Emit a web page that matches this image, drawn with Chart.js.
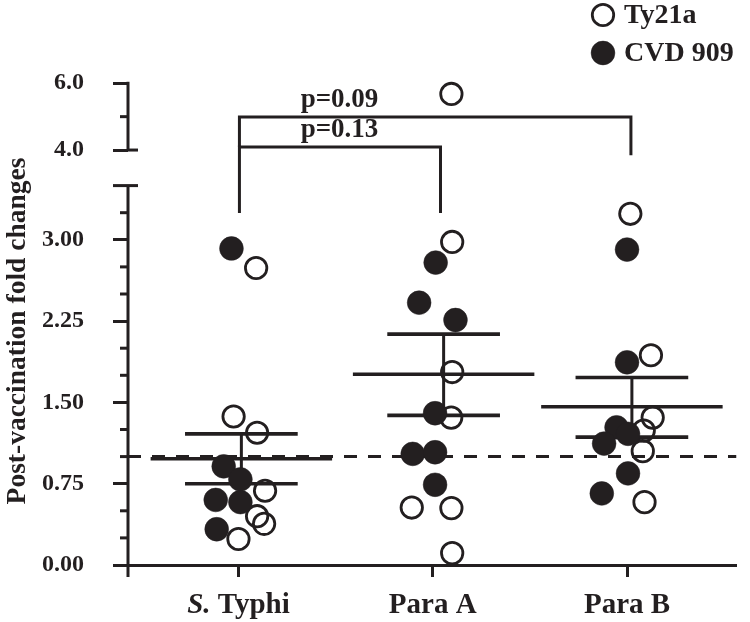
<!DOCTYPE html>
<html><head><meta charset="utf-8">
<script src="https://cdn.jsdelivr.net/npm/chart.js@4.4.0/dist/chart.umd.min.js"></script>
<style>html,body{margin:0;padding:0;background:#fff;}</style>
</head><body>
<canvas id="c" width="750" height="622"></canvas>
<script>
// ---------------- data ----------------
const categories = ['S. Typhi', 'Para A', 'Para B'];
const seriesNames = ['Ty21a', 'CVD 909'];

// Ty21a (open circles), fold change per subject, per category
const ty21aValues = [
  [2.74, 1.37, 1.22, 0.685, 0.45, 0.38, 0.24],
  [5.68, 2.98, 1.78, 1.36, 0.53, 0.525, 0.11],
  [3.24, 1.935, 1.36, 1.24, 1.05, 0.58]
];
// CVD 909 (filled circles)
const cvd909Values = [
  [2.92, 0.91, 0.79, 0.60, 0.58, 0.33],
  [2.79, 2.42, 2.26, 1.40, 1.025, 1.04, 0.74],
  [2.91, 1.87, 1.27, 1.21, 1.12, 0.845, 0.66]
];
// horizontal scatter of each dot inside its category (category units)
const ty21aJitter = [
  [0.091, -0.025, 0.096, 0.137, 0.096, 0.132, 0.000],
  [0.096, 0.100, 0.100, 0.095, -0.108, 0.096, 0.100],
  [0.017, 0.123, 0.132, 0.086, 0.081, 0.090]
];
const cvd909Jitter = [
  [-0.036, -0.076, 0.010, -0.117, 0.010, -0.112],
  [0.015, -0.070, 0.117, 0.012, -0.103, 0.012, 0.012],
  [0.000, 0.000, -0.054, 0.005, -0.118, 0.005, -0.130]
];
const meanValues = [0.98, 1.76, 1.46];
const semLower = [0.75, 1.38, 1.18];
const semUpper = [1.21, 2.13, 1.73];
const referenceLevel = 1.0;

const lowerTickValues = [0, 0.75, 1.5, 2.25, 3.0];
const lowerTickLabels = ['0.00', '0.75', '1.50', '2.25', '3.00'];
const upperTickValues = [4.0, 6.0];
const upperTickLabels = ['4.0', '6.0'];

const comparisons = [
  { from: 0, to: 1, label: 'p=0.13' },
  { from: 0, to: 2, label: 'p=0.09' }
];

// ---------------- layout / style ----------------
const INK = '#231f20';
const FONT = "'Liberation Serif', 'Times New Roman', serif";
const L = {
  xMin: 0.4315, xMax: 3.5634,
  lowMax: 3.5, highMin: 4, highStart: 3.828, highScale: 0.308, yMax: 5.0,
  minorStep: 0.25,
  meanHalf: 0.467, capHalf: 0.29, groupShift: [0.015, 0.056, 0.025],
  bracketX: [1.005, 2.04, 3.02], bracketLabelX: 1.52,
  brackets: [ { top: 3.856, left: 3.247, right: 3.247 }, { top: 4.133, left: 3.856, right: 3.78 } ]
};
// broken axis: map a real value to the continuous display coordinate
function t(v) { return v <= L.lowMax ? v : L.highStart + (v - L.highMin) * L.highScale; }

// y tick list
const yTickList = [];
for (let v = 0; v <= L.lowMax + 1e-9; v += L.minorStep) {
  const k = lowerTickValues.findIndex(m => Math.abs(m - v) < 1e-9);
  yTickList.push({ v: +v.toFixed(2), label: k >= 0 ? lowerTickLabels[k] : '', major: k >= 0 });
}
[4.0, 5.0, 6.0].forEach(v => {
  const k = upperTickValues.indexOf(v);
  yTickList.push({ v, label: k >= 0 ? upperTickLabels[k] : '', major: k >= 0 });
});

// ---------------- datasets ----------------
const datasets = [];
datasets.push({
  label: seriesNames[1], order: 0,
  data: cvd909Values.flatMap((arr, i) => arr.map((v, j) => ({ x: i + 1 + cvd909Jitter[i][j], y: t(v) }))),
  pointRadius: 11.9, pointBackgroundColor: INK, pointBorderColor: INK, pointBorderWidth: 0.5, showLine: false
});
datasets.push({
  label: seriesNames[0], order: 1,
  data: ty21aValues.flatMap((arr, i) => arr.map((v, j) => ({ x: i + 1 + ty21aJitter[i][j], y: t(v) }))),
  pointRadius: 10.7, pointBackgroundColor: 'rgba(255,255,255,0)', pointBorderColor: INK, pointBorderWidth: 2.8, showLine: false
});
function lineDs(pts, w, extra) {
  datasets.push(Object.assign({
    label: '', order: 5, data: pts, showLine: true, pointRadius: 0, borderColor: INK,
    borderWidth: w, fill: false, borderCapStyle: 'butt', borderJoinStyle: 'miter', tension: 0
  }, extra || {}));
}
categories.forEach((c, i) => {
  const cx = i + 1 + L.groupShift[i];
  lineDs([{ x: cx - L.meanHalf, y: t(meanValues[i]) }, { x: cx + L.meanHalf, y: t(meanValues[i]) }], 3.6);
  lineDs([{ x: cx - L.capHalf, y: t(semUpper[i]) }, { x: cx + L.capHalf, y: t(semUpper[i]) }], 3.6);
  lineDs([{ x: cx - L.capHalf, y: t(semLower[i]) }, { x: cx + L.capHalf, y: t(semLower[i]) }], 3.6);
  lineDs([{ x: cx, y: t(semLower[i]) }, { x: cx, y: t(semUpper[i]) }], 3);
});
lineDs([{ x: L.xMin, y: t(referenceLevel) }, { x: L.xMax, y: t(referenceLevel) }], 3, { borderDash: [13, 11], order: 6 });
comparisons.forEach((cmp, k) => {
  const b = L.brackets[k];
  const x1 = L.bracketX[cmp.from], x2 = L.bracketX[cmp.to];
  lineDs([{ x: x1, y: b.left }, { x: x1, y: b.top }, { x: x2, y: b.top }, { x: x2, y: b.right }], 3);
});

// ---------------- plugin: broken axis, labels, legend ----------------
const decor = {
  id: 'decor',
  afterDraw(chart) {
    const { ctx, scales: { x, y } } = chart;
    const ax = chart.chartArea.left;
    ctx.save();
    ctx.strokeStyle = INK; ctx.fillStyle = INK; ctx.lineWidth = 3; ctx.lineCap = 'butt';
    const py = v => y.getPixelForValue(t(v));
    const seg = (x1, y1, x2, y2) => { ctx.beginPath(); ctx.moveTo(x1, y1); ctx.lineTo(x2, y2); ctx.stroke(); };
    // axis lines (two segments)
    seg(ax, py(0) + 12, ax, py(L.lowMax));
    seg(ax, py(L.highMin), ax, py(6.0) - 1.5);
    // minor ticks
    yTickList.forEach(tk => {
      if (!tk.major && tk.v !== L.lowMax) seg(ax - 8, py(tk.v), ax, py(tk.v));
    });
    // break marks
    seg(ax - 15, py(L.lowMax), ax + 10, py(L.lowMax));
    seg(ax, py(L.highMin), ax + 10, py(L.highMin));

    // x category labels
    ctx.textBaseline = 'alphabetic';
    const fs = 29;
    categories.forEach((c, i) => {
      const px = x.getPixelForValue(i + 1);
      const baseY = 613;
      if (c.startsWith('S. ')) {
        ctx.font = `italic bold ${fs}px ${FONT}`;
        const a = 'S.';
        const wa = ctx.measureText(a).width;
        ctx.font = `bold ${fs}px ${FONT}`;
        const b = c.slice(2);
        const wb = ctx.measureText(b).width;
        const start = px - (wa + wb) / 2;
        ctx.textAlign = 'left';
        ctx.font = `italic bold ${fs}px ${FONT}`;
        ctx.fillText(a, start, baseY);
        ctx.font = `bold ${fs}px ${FONT}`;
        ctx.fillText(b, start + wa, baseY);
      } else {
        ctx.font = `bold ${fs}px ${FONT}`;
        ctx.textAlign = 'center';
        ctx.fillText(c, px, baseY);
      }
    });

    // comparison labels
    ctx.font = `bold 27px ${FONT}`;
    ctx.textAlign = 'center';
    comparisons.forEach((cmp, k) => {
      ctx.fillText(cmp.label, x.getPixelForValue(L.bracketLabelX), y.getPixelForValue(L.brackets[k].top) - 10);
    });

    // y title
    ctx.save();
    ctx.translate(25, 331);
    ctx.rotate(-Math.PI / 2);
    ctx.font = `bold 27.5px ${FONT}`;
    ctx.textAlign = 'center'; ctx.textBaseline = 'alphabetic';
    ctx.fillText('Post-vaccination fold changes', 0, 0);
    ctx.restore();

    // legend
    const lx = 603, ly = [15, 53];
    ctx.font = `bold 28px ${FONT}`;
    ctx.textAlign = 'left'; ctx.textBaseline = 'middle';
    [datasets[1], datasets[0]].forEach((ds, k) => {
      ctx.beginPath();
      ctx.arc(lx, ly[k], ds.pointRadius, 0, Math.PI * 2);
      ctx.fillStyle = ds.pointBackgroundColor; ctx.fill();
      ctx.lineWidth = ds.pointBorderWidth; ctx.strokeStyle = ds.pointBorderColor; ctx.stroke();
      ctx.fillStyle = INK;
      ctx.fillText(ds.label, lx + 21, ly[k] + 1);
    });
    ctx.restore();
  }
};

new Chart(document.getElementById('c'), {
  type: 'scatter',
  data: { datasets },
  plugins: [decor],
  options: {
    responsive: false, animation: false, devicePixelRatio: 1, events: [],
    layout: { padding: { top: 23, left: 0, right: 0, bottom: 0 } },
    plugins: { legend: { display: false }, tooltip: { enabled: false } },
    elements: { line: { clip: false } },
    scales: {
      x: {
        type: 'linear', min: L.xMin, max: L.xMax,
        afterBuildTicks: s => { s.ticks = categories.map((c, i) => ({ value: i + 1 })); },
        afterFit: s => { s.height = 57; s.paddingLeft = 0; s.paddingRight = 0; },
        ticks: { display: false },
        grid: { drawOnChartArea: false, drawTicks: true, tickLength: 12, tickWidth: 3, tickColor: INK },
        border: { display: true, color: INK, width: 3 }
      },
      y: {
        type: 'linear', min: 0, max: L.yMax,
        afterBuildTicks: s => { s.ticks = yTickList.map(o => ({ value: t(o.v) })); },
        afterFit: s => { s.width = 128; s.paddingTop = 0; s.paddingBottom = 0; },
        ticks: {
          autoSkip: false, padding: 29, color: INK,
          font: { family: FONT, weight: 'bold', size: 24 },
          callback: (val, idx) => yTickList[idx] ? yTickList[idx].label : ''
        },
        grid: {
          drawOnChartArea: false, drawTicks: true, tickLength: 15, tickWidth: 3,
          tickColor: c => (yTickList[c.index] && yTickList[c.index].major) ? INK : 'rgba(0,0,0,0)'
        },
        border: { display: false }
      }
    }
  }
});
</script>
</body></html>
